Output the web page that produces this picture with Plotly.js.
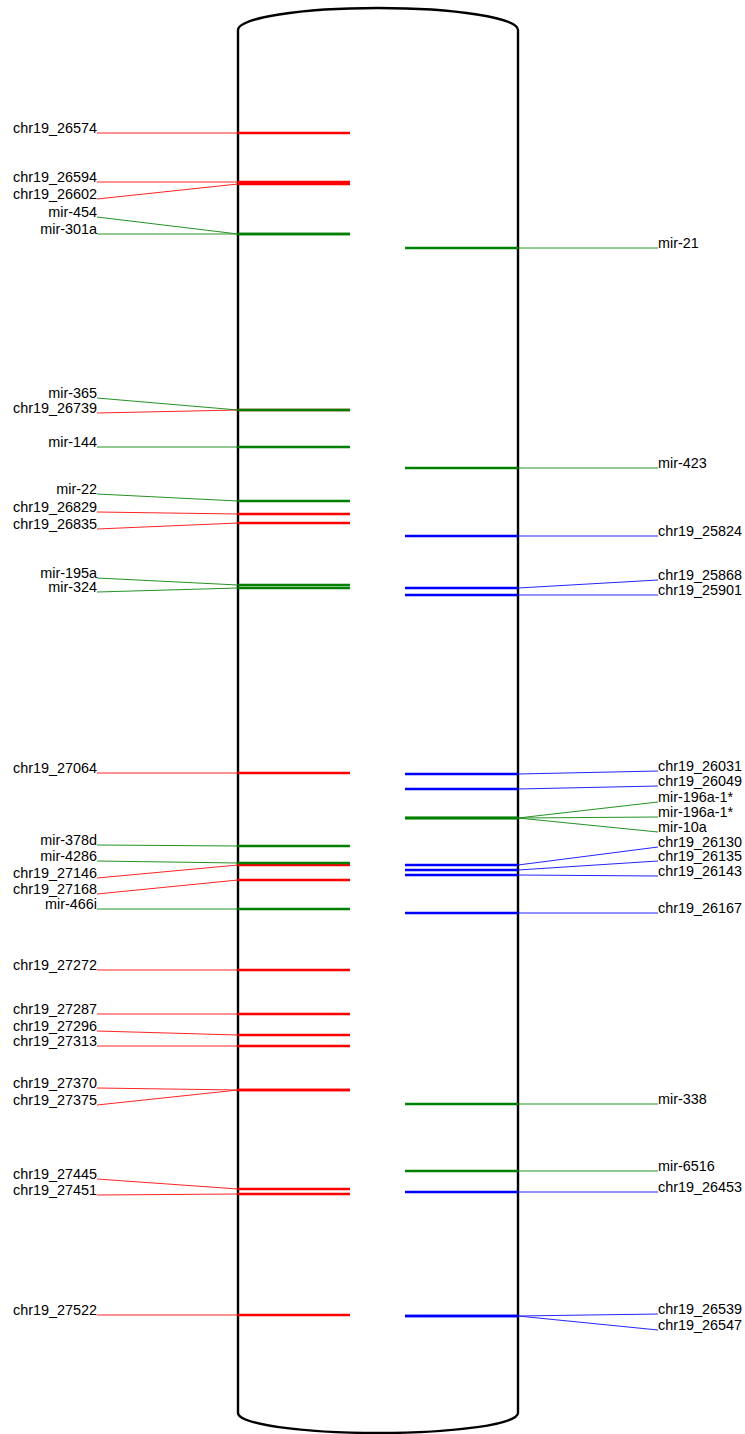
<!DOCTYPE html>
<html>
<head>
<meta charset="utf-8">
<script src="https://cdn.plot.ly/plotly-3.0.1.min.js"></script>
<style>html,body{margin:0;padding:0;background:#fff;}#chart{width:745px;height:1434px;}</style>
</head>
<body>
<div id="chart"></div>
<script>
// ---- data: left side features (name, band position, label position, type) ----
const leftNames = ["chr19_26574","chr19_26594","chr19_26602","mir-454","mir-301a","mir-365","chr19_26739","mir-144","mir-22","chr19_26829","chr19_26835","mir-195a","mir-324","chr19_27064","mir-378d","mir-4286","chr19_27146","chr19_27168","mir-466i","chr19_27272","chr19_27287","chr19_27296","chr19_27313","chr19_27370","chr19_27375","chr19_27445","chr19_27451","chr19_27522"];
const leftBand  = [133,182,184,234,234,410,410,447,501,514,523,585,588,773,846,863,865,880,909,970,1014,1035,1046,1090,1090,1189,1194,1315];
const leftLabel = [133,182,199,217,234,398,413,447,494,512,529,578,592,773,845,861,878,894,909,970,1014,1031,1046,1088,1105,1179,1195,1315];
const leftType  = ["r","r","r","g","g","g","r","g","g","r","r","g","g","r","g","g","r","r","g","r","r","r","r","r","r","r","r","r"];

// ---- data: right side features ----
const rightNames = ["mir-21","mir-423","chr19_25824","chr19_25868","chr19_25901","chr19_26031","chr19_26049","mir-196a-1*","mir-196a-1*","mir-10a","chr19_26130","chr19_26135","chr19_26143","chr19_26167","mir-338","mir-6516","chr19_26453","chr19_26539","chr19_26547"];
const rightBand  = [248,468,536,588,595,774,789,818,818,818,865,870,875,913,1104,1171,1192,1316,1316];
const rightLabel = [248,468,536,580,595,771,786,802,817,832,847,861,876,913,1104,1171,1192,1314,1330];
const rightType  = ["g","g","b","b","b","b","b","g","g","g","b","b","b","b","g","g","b","b","b"];

const colorOf = {r:"#ff0000", g:"#008000", b:"#0000ff"};

// ---- geometry (pixel-like plot units) ----
const W = 745, H = 1434;
const cylL = 238, cylR = 518, cylTop = 30, cylBot = 1413, capH = 22;
const leftBandX = [cylL, 350], rightBandX = [405, cylR];
const leftLabelX = 97, rightLabelX = 658;
const textLift = 4;

const traces = [];
function addSide(names, band, label, type, bandX, edgeX, labX, side) {
  ["r","g","b"].forEach(t => {
    const bx = [], by = [], cx = [], cy = [], tx = [], ty = [], tt = [];
    names.forEach((n, i) => {
      if (type[i] !== t) return;
      bx.push(bandX[0], bandX[1], null); by.push(band[i], band[i], null);
      cx.push(edgeX, labX, null); cy.push(band[i], label[i], null);
      tx.push(labX); ty.push(label[i] - textLift); tt.push(n);
    });
    if (!tt.length) return;
    traces.push({x: cx, y: cy, mode: "lines", line: {color: colorOf[t], width: 1}, hoverinfo: "skip", opacity: 0.85});
    traces.push({x: bx, y: by, mode: "lines", line: {color: colorOf[t], width: 2.6}, hoverinfo: "skip"});
    traces.push({x: tx, y: ty, mode: "text", text: tt,
      textposition: side === "left" ? "middle left" : "middle right",
      textfont: {family: "Liberation Sans, Arial, sans-serif", size: 14.4, color: "#000"},
      hoverinfo: "skip"});
  });
}
addSide(leftNames, leftBand, leftLabel, leftType, leftBandX, cylL, leftLabelX, "left");
addSide(rightNames, rightBand, rightLabel, rightType, rightBandX, cylR, rightLabelX, "right");

const k = 0.5523, cx = (cylL + cylR) / 2, rx = (cylR - cylL) / 2;
const botH = 20;
const path =
  `M${cylL},${cylTop} C${cylL},${cylTop - capH*k} ${cx - rx*k},${cylTop - capH} ${cx},${cylTop - capH} ` +
  `C${cx + rx*k},${cylTop - capH} ${cylR},${cylTop - capH*k} ${cylR},${cylTop} ` +
  `L${cylR},${cylBot} C${cylR},${cylBot + botH*k} ${cx + rx*k},${cylBot + botH} ${cx},${cylBot + botH} ` +
  `C${cx - rx*k},${cylBot + botH} ${cylL},${cylBot + botH*k} ${cylL},${cylBot} Z`;

const layout = {
  width: W, height: H,
  margin: {l: 0, r: 0, t: 0, b: 0},
  paper_bgcolor: "#fff", plot_bgcolor: "#fff",
  showlegend: false,
  xaxis: {range: [0, W], visible: false, fixedrange: true},
  yaxis: {range: [H, 0], visible: false, fixedrange: true},
  shapes: [{type: "path", xref: "x", yref: "y", path: path, line: {color: "#000", width: 2.4}, layer: "below"}]
};
Plotly.newPlot("chart", traces, layout, {staticPlot: true, displayModeBar: false});
</script>
</body>
</html>
